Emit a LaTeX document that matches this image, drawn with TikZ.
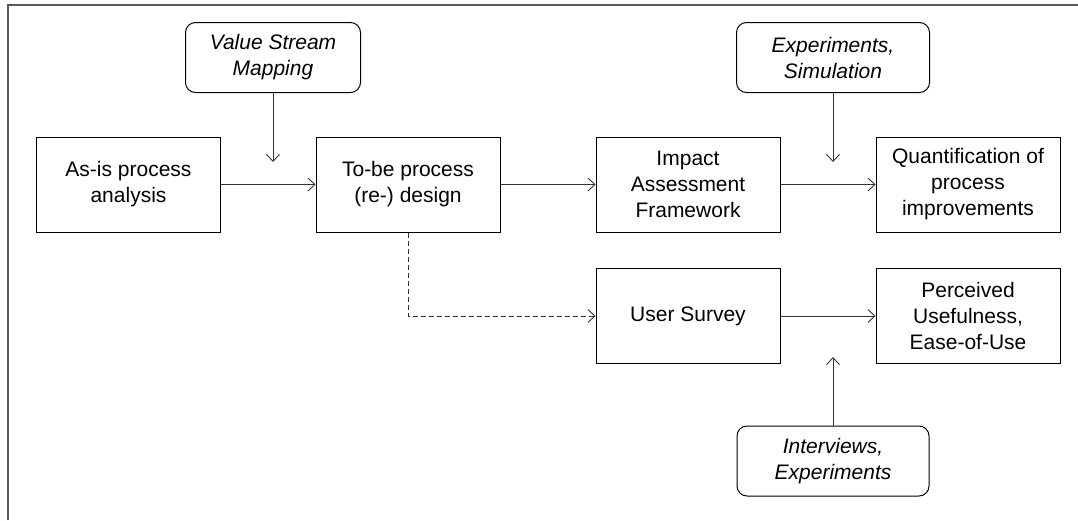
\documentclass[tikz,border=0pt]{standalone}
\usepackage{fontspec}
\setmainfont{Liberation Sans}
\usetikzlibrary{positioning,arrows.meta}
\tikzset{
  stage/.style={draw=black, line width=1pt, minimum width=184pt, minimum height=95pt,
    align=center, font=\fontsize{21}{26}\selectfont},
  method/.style={draw=black, line width=1pt, rounded corners=10pt, minimum height=70pt,
    align=center, font=\fontsize{21}{26}\selectfont\itshape},
  flow/.style={draw=black!80, line width=0.9pt, -{Straight Barb[length=7pt,width=13pt]}},
  optflow/.style={flow, dash pattern=on 5pt off 3pt}%,
  % frame/.style={draw=black!60, line width=2pt}
}

\begin{document}
\begin{tikzpicture}[x=1pt, y=-1pt]
    \useasboundingbox (0,0) rectangle (1078,520);
    \draw[black!65, line width=2pt] (8,520) -- (8,4.5) -- (1078,4.5);
    %
    \node[stage] (asis)   at (128.5,184.5) {As-is process\\analysis};
    \node[stage] (tobe)   at (408,184.5)   {To-be process\\(re-) design};
    \node[stage] (impact) at (688,184.5)   {Impact\\Assessment\\Framework};
    \node[stage] (quant)  at (968,184.5)   {Quantification of\\process\\improvements};
    \node[stage] (survey) at (688,316)     {User Survey};
    \node[stage] (useful) at (968,316)     {Perceived\\Usefulness,\\Ease-of-Use};
    %
    \node[method, minimum width=175pt] (vsm)    at (273,57.5)  {Value Stream\\Mapping};
    \node[method, minimum width=193pt] (expsim) at (833,57.5)  {Experiments,\\Simulation};
    \node[method, minimum width=192pt] (interv) at (833,461)   {Interviews,\\Experiments};
    \node[coordinate] (vsmend)    at (273,162) {};
    \node[coordinate] (expsimend) at (833,162) {};
    \node[coordinate] (intervend) at (833,357) {};
    %
    \draw[flow] (asis) -- (tobe);
    \draw[flow] (tobe) -- (impact);
    \draw[flow] (impact) -- (quant);
    \draw[flow] (survey) -- (useful);
    \draw[optflow] (tobe.south) |- (survey.west);
    %
    \draw[flow] (vsm) -- (vsmend);
    \draw[flow] (expsim) -- (expsimend);
    \draw[flow] (interv) -- (intervend);
\end{tikzpicture}
\end{document}
